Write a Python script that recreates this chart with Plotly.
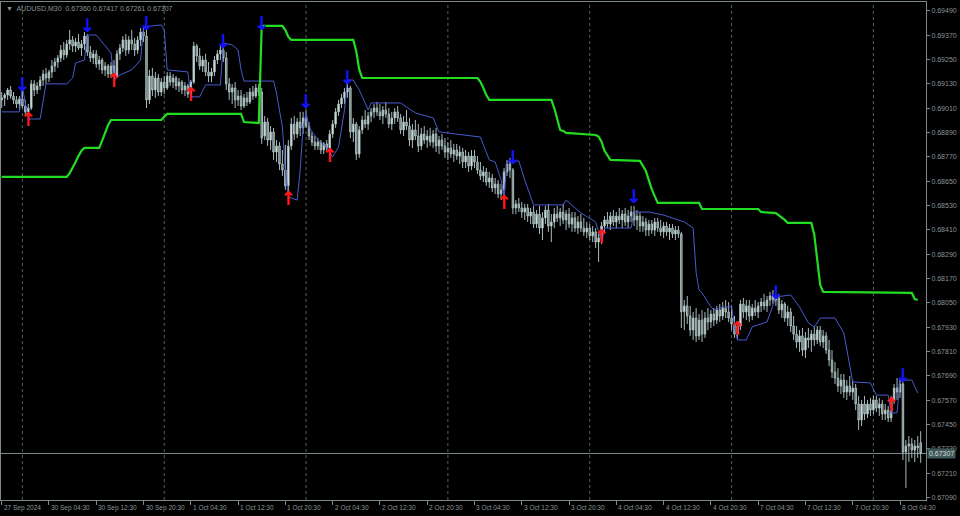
import plotly.graph_objects as go

# Prices are stored in points (0.00001) above 0.67000
BASE = 0.67

open_pts = [
    2051, 2061, 2075, 2100, 2070, 2051, 2031, 2056, 2021, 1992,
    2011, 2130, 2100, 2120, 2149, 2179, 2159, 2189, 2218, 2238,
    2258, 2297, 2273, 2327, 2347, 2317, 2337, 2307, 2327, 2366,
    2287, 2258, 2278, 2228, 2248, 2199, 2218, 2179, 2218, 2169,
    2278, 2307, 2347, 2297, 2347, 2327, 2297, 2347, 2386, 2366,
    2051, 2169, 2100, 2159, 2090, 2139, 2110, 2169, 2139, 2159,
    2120, 2139, 2100, 2120, 2080, 2139, 2317, 2268, 2218, 2248,
    2189, 2169, 2189, 2248, 2278, 2297, 2258, 2130, 2090, 2110,
    2051, 2070, 2021, 2061, 2041, 2090, 2070, 2110, 2090, 1873,
    1942, 1853, 1893, 1794, 1824, 1735, 1705, 1627, 1824, 1932,
    1883, 1942, 1913, 1962, 1922, 1873, 1843, 1824, 1843, 1804,
    1834, 1814, 1883, 1932, 1992, 2031, 2061, 2090, 2110, 1893,
    1932, 1784, 1903, 1952, 1932, 1972, 1992, 2011, 1992, 1972,
    2001, 1982, 1932, 1962, 1992, 1962, 1903, 1942, 1922, 1853,
    1903, 1873, 1824, 1883, 1853, 1873, 1843, 1883, 1824, 1853,
    1824, 1794, 1814, 1784, 1804, 1774, 1794, 1745, 1774, 1725,
    1774, 1745, 1705, 1676, 1696, 1646, 1666, 1617, 1636, 1587,
    1607, 1696, 1735, 1705, 1518, 1538, 1518, 1498, 1518, 1478,
    1498, 1439, 1488, 1419, 1469, 1508, 1429, 1449, 1488, 1469,
    1498, 1459, 1488, 1439, 1469, 1419, 1449, 1419, 1400, 1419,
    1380, 1400, 1350, 1370, 1429, 1459, 1439, 1478, 1449, 1478,
    1459, 1488, 1449, 1478, 1498, 1459, 1478, 1429, 1449, 1409,
    1439, 1409, 1449, 1419, 1400, 1429, 1400, 1419, 1390, 1409,
    1390, 1006, 1035, 985, 916, 975, 887, 965, 896, 975,
    956, 995, 965, 1015, 985, 1025, 1005, 975, 946, 896,
    936, 1044, 1005, 1035, 985, 1025, 1005, 1035, 1054, 1035,
    1064, 1084, 1064, 1074, 1015, 1044, 975, 1005, 936, 896,
    857, 887, 817, 877, 867, 896, 867, 916, 857, 887,
    817, 768, 709, 679, 640, 669, 610, 640, 610, 630,
    551, 472, 551, 502, 551, 521, 571, 531, 551, 502,
    521, 482, 571, 630, 610, 650, 314, 344, 354, 324,
    344, 360,
]

high_pts = [
    2090, 2085, 2110, 2120, 2090, 2070, 2070, 2100, 2051, 2031,
    2149, 2149, 2139, 2169, 2199, 2209, 2199, 2248, 2258, 2273,
    2322, 2337, 2347, 2396, 2366, 2357, 2376, 2347, 2386, 2376,
    2317, 2297, 2297, 2268, 2258, 2238, 2228, 2238, 2248, 2297,
    2327, 2366, 2376, 2366, 2396, 2357, 2366, 2406, 2416, 2396,
    2199, 2209, 2189, 2179, 2159, 2169, 2189, 2189, 2179, 2169,
    2159, 2149, 2139, 2130, 2149, 2337, 2327, 2307, 2268, 2278,
    2238, 2209, 2268, 2297, 2317, 2307, 2287, 2159, 2130, 2139,
    2100, 2100, 2080, 2090, 2110, 2120, 2130, 2130, 2110, 1972,
    1962, 1922, 1913, 1853, 1843, 1804, 1829, 1853, 1962, 1972,
    1962, 1992, 1992, 2001, 1942, 1893, 1873, 1863, 1853, 1843,
    1853, 1903, 1952, 2011, 2051, 2080, 2110, 2130, 2120, 1962,
    1942, 1922, 1972, 2001, 1992, 2011, 2031, 2041, 2031, 2021,
    2041, 2011, 1992, 2011, 2021, 1982, 1972, 2001, 1962, 1932,
    1952, 1932, 1913, 1922, 1903, 1913, 1903, 1913, 1873, 1883,
    1863, 1843, 1853, 1834, 1834, 1824, 1814, 1804, 1794, 1804,
    1804, 1774, 1745, 1725, 1715, 1696, 1686, 1666, 1656, 1636,
    1715, 1755, 1765, 1715, 1557, 1567, 1547, 1538, 1538, 1518,
    1528, 1508, 1528, 1498, 1528, 1538, 1488, 1518, 1528, 1518,
    1538, 1508, 1518, 1498, 1498, 1478, 1488, 1469, 1449, 1439,
    1429, 1419, 1400, 1449, 1478, 1498, 1498, 1508, 1498, 1518,
    1508, 1518, 1508, 1528, 1528, 1508, 1498, 1478, 1469, 1459,
    1459, 1469, 1469, 1459, 1449, 1449, 1439, 1439, 1429, 1429,
    1400, 1064, 1084, 1035, 1005, 1025, 995, 1015, 1005, 1025,
    1015, 1025, 1035, 1044, 1054, 1064, 1054, 1035, 985, 956,
    1064, 1074, 1064, 1064, 1044, 1064, 1054, 1074, 1094, 1084,
    1104, 1113, 1094, 1094, 1064, 1054, 1035, 1025, 985, 936,
    916, 926, 906, 926, 916, 936, 936, 936, 916, 906,
    867, 817, 758, 728, 699, 699, 669, 689, 669, 650,
    591, 571, 591, 571, 581, 591, 591, 581, 571, 551,
    541, 591, 650, 679, 669, 669, 373, 393, 383, 373,
    393, 417,
]

low_pts = [
    2011, 2021, 2051, 2056, 2031, 2011, 2001, 2011, 1972, 1962,
    2001, 2070, 2080, 2100, 2120, 2130, 2139, 2159, 2189, 2209,
    2238, 2248, 2258, 2297, 2287, 2287, 2297, 2268, 2297, 2268,
    2238, 2228, 2209, 2199, 2179, 2169, 2159, 2159, 2149, 2159,
    2248, 2287, 2268, 2278, 2297, 2268, 2278, 2317, 2337, 2011,
    2031, 2070, 2061, 2070, 2070, 2080, 2100, 2120, 2110, 2100,
    2090, 2080, 2070, 2061, 2070, 2130, 2238, 2199, 2189, 2169,
    2139, 2139, 2169, 2228, 2248, 2238, 2100, 2051, 2031, 2011,
    2021, 2001, 2011, 2021, 2031, 2051, 2061, 2070, 1834, 1853,
    1824, 1804, 1755, 1745, 1705, 1676, 1607, 1577, 1804, 1853,
    1863, 1873, 1883, 1913, 1853, 1824, 1804, 1804, 1784, 1784,
    1794, 1774, 1863, 1913, 1972, 2011, 2031, 2061, 1863, 1843,
    1755, 1765, 1883, 1913, 1903, 1942, 1962, 1972, 1952, 1932,
    1962, 1913, 1903, 1932, 1942, 1883, 1873, 1903, 1824, 1814,
    1853, 1794, 1804, 1834, 1814, 1824, 1814, 1794, 1784, 1804,
    1765, 1755, 1765, 1745, 1755, 1735, 1715, 1715, 1696, 1705,
    1715, 1686, 1656, 1646, 1627, 1617, 1597, 1587, 1567, 1557,
    1557, 1676, 1666, 1488, 1488, 1498, 1469, 1459, 1449, 1439,
    1419, 1419, 1390, 1360, 1439, 1400, 1350, 1419, 1449, 1429,
    1439, 1409, 1419, 1400, 1400, 1390, 1400, 1380, 1370, 1360,
    1350, 1321, 1252, 1340, 1400, 1419, 1409, 1429, 1419, 1439,
    1419, 1429, 1419, 1449, 1429, 1409, 1400, 1400, 1380, 1380,
    1390, 1380, 1400, 1380, 1370, 1380, 1360, 1370, 1360, 1370,
    926, 916, 946, 887, 867, 857, 867, 857, 877, 916,
    926, 936, 946, 956, 965, 975, 956, 916, 877, 867,
    916, 975, 965, 956, 965, 985, 975, 1005, 1015, 1005,
    1035, 1044, 1035, 995, 975, 956, 936, 906, 867, 827,
    808, 788, 778, 827, 808, 837, 847, 837, 827, 798,
    738, 679, 650, 610, 600, 581, 571, 591, 571, 521,
    423, 442, 472, 482, 492, 502, 511, 492, 472, 472,
    462, 462, 551, 571, 581, 275, 137, 265, 285, 265,
    285, 261,
]

close_pts = [
    2061, 2075, 2100, 2070, 2051, 2031, 2056, 2021, 1992, 2011,
    2130, 2100, 2120, 2149, 2179, 2159, 2189, 2218, 2238, 2258,
    2297, 2273, 2327, 2347, 2317, 2337, 2307, 2327, 2366, 2287,
    2258, 2278, 2228, 2248, 2199, 2218, 2179, 2218, 2169, 2278,
    2307, 2347, 2297, 2347, 2327, 2297, 2347, 2386, 2366, 2051,
    2169, 2100, 2159, 2090, 2139, 2110, 2169, 2139, 2159, 2120,
    2139, 2100, 2120, 2080, 2139, 2317, 2268, 2218, 2248, 2189,
    2169, 2189, 2248, 2278, 2297, 2258, 2130, 2090, 2110, 2051,
    2070, 2021, 2061, 2041, 2090, 2070, 2110, 2090, 1863, 1942,
    1853, 1893, 1794, 1824, 1735, 1705, 1627, 1824, 1932, 1883,
    1942, 1913, 1962, 1922, 1873, 1843, 1824, 1843, 1804, 1834,
    1814, 1883, 1932, 1992, 2031, 2061, 2090, 2110, 1893, 1932,
    1784, 1903, 1952, 1932, 1972, 1992, 2011, 1992, 1972, 2001,
    1982, 1932, 1962, 1992, 1962, 1903, 1942, 1922, 1853, 1903,
    1873, 1824, 1883, 1853, 1873, 1843, 1883, 1824, 1853, 1824,
    1794, 1814, 1784, 1804, 1774, 1794, 1745, 1774, 1725, 1774,
    1745, 1705, 1676, 1696, 1646, 1666, 1617, 1636, 1587, 1607,
    1696, 1735, 1705, 1518, 1538, 1518, 1498, 1518, 1478, 1498,
    1439, 1488, 1419, 1469, 1508, 1429, 1449, 1488, 1469, 1498,
    1459, 1488, 1439, 1469, 1419, 1449, 1419, 1400, 1419, 1380,
    1400, 1350, 1370, 1429, 1459, 1439, 1478, 1449, 1478, 1459,
    1488, 1449, 1478, 1498, 1459, 1478, 1429, 1449, 1409, 1439,
    1409, 1449, 1419, 1400, 1429, 1400, 1419, 1390, 1409, 1390,
    1006, 1035, 985, 916, 975, 887, 965, 896, 975, 956,
    995, 965, 1015, 985, 1025, 1005, 975, 946, 896, 936,
    1044, 1005, 1035, 985, 1025, 1005, 1035, 1054, 1035, 1064,
    1084, 1064, 1074, 1015, 1044, 975, 1005, 936, 896, 857,
    887, 817, 877, 867, 896, 867, 916, 857, 887, 817,
    768, 709, 679, 640, 669, 610, 640, 610, 630, 551,
    472, 551, 502, 551, 521, 571, 531, 551, 502, 521,
    482, 571, 630, 610, 650, 314, 344, 354, 324, 344,
    334, 307,
]

# Green indicator line: (bar index, value) breakpoints
green_bar = [0, 22, 23, 24, 25, 26, 27, 28, 33, 34, 35, 36, 37, 54, 55, 56, 81, 82, 87, 88,
             95, 96, 97, 98, 119, 120, 121, 122, 161, 162, 163, 164, 165, 186, 187, 188, 189,
             190, 191, 201, 202, 203, 204, 206, 216, 218, 220, 222, 236, 237, 256, 257, 262,
             265, 266, 274, 275, 276, 277, 278, 308, 309, 310]
green_pts = [1671, 1671, 1690, 1715, 1745, 1775, 1800, 1814, 1814, 1850, 1890, 1927, 1952, 1952,
             1968, 1982, 1982, 1942, 1937, 2416, 2416, 2396, 2362, 2347, 2347, 2290, 2200, 2159,
             2159, 2140, 2110, 2075, 2051, 2051, 2011, 1952, 1903, 1898, 1888, 1878, 1870, 1845,
             1800, 1755, 1750, 1700, 1610, 1543, 1543, 1513, 1513, 1498, 1493, 1459, 1444, 1444,
             1385, 1261, 1138, 1104, 1099, 1069, 1064]

# Blue indicator line: (bar index, value) breakpoints
blue_bar = [0, 6, 7, 9, 13, 15, 22, 24, 25, 28, 29, 32, 37, 38, 40, 44, 47, 48, 54, 55, 56, 63,
            64, 67, 69, 74, 75, 78, 80, 81, 82, 92, 93, 95, 96, 97, 100, 101, 102, 103, 104, 107,
            110, 111, 112, 114, 116, 117, 119, 121, 123, 124, 125, 135, 137, 140, 146, 148, 162,
            165, 167, 169, 170, 171, 175, 177, 180, 190, 191, 196, 201, 203, 204, 213, 214, 219,
            224, 231, 234, 235, 236, 237, 240, 241, 244, 247, 248, 249, 252, 254, 259, 262, 267,
            270, 273, 275, 277, 282, 285, 288, 294, 296, 300, 301, 303, 304, 308, 310]
blue_pts = [1992, 1992, 2115, 1957, 1957, 2130, 2130, 2159, 2233, 2248, 2371, 2371, 2283, 2149,
            2174, 2199, 2248, 2411, 2421, 2396, 2199, 2189, 2066, 2066, 2125, 2125, 2332, 2322,
            2297, 2199, 2144, 2144, 2085, 1917, 1700, 1572, 1557, 1705, 1917, 1987, 1917, 1853,
            1819, 1789, 1770, 1819, 2001, 2149, 2149, 2100, 2036, 2001, 2036, 2036, 2016, 1987,
            1962, 1893, 1868, 1755, 1745, 1656, 1577, 1745, 1750, 1656, 1533, 1533, 1557, 1493,
            1449, 1350, 1419, 1419, 1498, 1498, 1483, 1449, 1419, 1200, 1113, 1099, 1030, 1015,
            1030, 1030, 940, 867, 867, 932, 956, 1079, 1089, 1030, 951, 931, 975, 975, 901, 660,
            655, 595, 595, 507, 507, 669, 669, 605]

# Signal arrows
sell_bar = [7, 29, 49, 75, 88, 103, 117, 173, 214, 262, 305]
sell_pts = [2120, 2411, 2421, 2332, 2421, 2036, 2154, 1760, 1567, 1094, 685]
buy_bar = [9, 38, 64, 97, 111, 170, 203, 249, 301]
buy_pts = [1947, 2139, 2070, 1557, 1770, 1538, 1370, 916, 541]

# Axis labels
x_tick_bars = [0, 16, 32, 48, 64, 80, 96, 112, 128, 144, 160, 176, 192, 208, 224, 240, 256, 272,
               288, 304]
x_tick_labels = ["27 Sep 2024", "30 Sep 04:30", "30 Sep 12:30", "30 Sep 20:30", "1 Oct 04:30",
                 "1 Oct 12:30", "1 Oct 20:30", "2 Oct 04:30", "2 Oct 12:30", "2 Oct 20:30",
                 "3 Oct 04:30", "3 Oct 12:30", "3 Oct 20:30", "4 Oct 04:30", "4 Oct 12:30",
                 "4 Oct 20:30", "7 Oct 04:30", "7 Oct 12:30", "7 Oct 20:30", "8 Oct 04:30"]
y_tick_labels = ["0.69490", "0.69370", "0.69250", "0.69130", "0.69010", "0.68890", "0.68770",
                 "0.68650", "0.68530", "0.68410", "0.68290", "0.68170", "0.68050", "0.67930",
                 "0.67810", "0.67690", "0.67570", "0.67450", "0.67330", "0.67210", "0.67090"]
day_start_bars = [7, 55, 103, 151, 199, 247, 295]
bid_price = 0.67307
title_text = "▼  AUDUSD,M30  0.67360 0.67417 0.67261 0.67307"


def to_price(pts):
    return [BASE + p / 1e5 for p in pts]


bars = list(range(len(close_pts)))
TXT = "#8a9696"
AXC = "#7d8989"

fig = go.Figure()
fig.add_trace(go.Candlestick(
    x=bars, open=to_price(open_pts), high=to_price(high_pts),
    low=to_price(low_pts), close=to_price(close_pts),
    increasing=dict(line=dict(color="#a8bcbc", width=1), fillcolor="#eef5f5"),
    decreasing=dict(line=dict(color="#a8bcbc", width=1), fillcolor="#5f7575"),
    whiskerwidth=0, hoverinfo="skip", showlegend=False))
fig.add_trace(go.Scatter(x=blue_bar, y=to_price(blue_pts), mode="lines",
                         line=dict(color="#4a5ad0", width=1), hoverinfo="skip",
                         showlegend=False))
fig.add_trace(go.Scatter(x=green_bar, y=to_price(green_pts), mode="lines",
                         line=dict(color="#22dd22", width=2.2), hoverinfo="skip",
                         showlegend=False))
fig.add_trace(go.Scatter(x=sell_bar, y=to_price(sell_pts), mode="text",
                         text=["<b>↓</b>"] * len(sell_bar), textposition="middle center",
                         textfont=dict(color="#1414ff", size=19, family="DejaVu Sans"),
                         hoverinfo="skip", showlegend=False))
fig.add_trace(go.Scatter(x=buy_bar, y=to_price(buy_pts), mode="text",
                         text=["<b>↑</b>"] * len(buy_bar), textposition="middle center",
                         textfont=dict(color="#ff1a1a", size=19, family="DejaVu Sans"),
                         hoverinfo="skip", showlegend=False))

shapes = []
for b in day_start_bars:
    shapes.append(dict(type="line", xref="x", yref="paper", x0=b, x1=b, y0=0, y1=1,
                       line=dict(color="#56605f", width=1, dash="dot"), layer="below"))
shapes.append(dict(type="line", xref="paper", yref="y", x0=0, x1=1, y0=bid_price,
                   y1=bid_price, line=dict(color="#7f8c8c", width=1), layer="below"))

annotations = []
for b, lab in zip(x_tick_bars, x_tick_labels):
    annotations.append(dict(x=b, y=0, xref="x", yref="paper", text=lab, showarrow=False,
                            xanchor="left", yanchor="top", xshift=0, yshift=-2,
                            font=dict(family="Liberation Sans", size=6.5, color=TXT)))
annotations.append(dict(x=1, y=bid_price, xref="paper", yref="y", text=f"{bid_price:.5f}",
                        showarrow=False, xanchor="left", yanchor="middle", xshift=1,
                        bgcolor="#3f5858", borderpad=1,
                        font=dict(family="Liberation Sans", size=7, color="#d0dada")))
annotations.append(dict(x=0, y=1, xref="paper", yref="paper", text=title_text,
                        showarrow=False, xanchor="left", yanchor="top", xshift=3, yshift=-1,
                        font=dict(family="Liberation Sans", size=7, color=TXT)))

fig.update_layout(
    width=960, height=516,
    margin=dict(l=1, r=34, t=2, b=16, autoexpand=False),
    paper_bgcolor="#000000", plot_bgcolor="#000000",
    showlegend=False,
    shapes=shapes, annotations=annotations,
    xaxis=dict(range=[-0.237, 312.8], showgrid=False, zeroline=False, showline=True,
               mirror=True, linecolor=AXC, linewidth=1, ticks="outside", ticklen=4,
               tickcolor=AXC, tickvals=x_tick_bars, showticklabels=False,
               rangeslider=dict(visible=False), fixedrange=True),
    yaxis=dict(range=[0.670775, 0.69534], side="right", showgrid=False, zeroline=False,
               showline=True, mirror=True, linecolor=AXC, linewidth=1, ticks="outside",
               ticklen=3, tickcolor=AXC,
               tickvals=[float(t) for t in y_tick_labels], ticktext=y_tick_labels,
               tickfont=dict(family="Liberation Sans", size=7, color=TXT), fixedrange=True),
)

fig.write_html("out.html", config={"displayModeBar": False},
               post_script="document.body.style.margin='0';")
